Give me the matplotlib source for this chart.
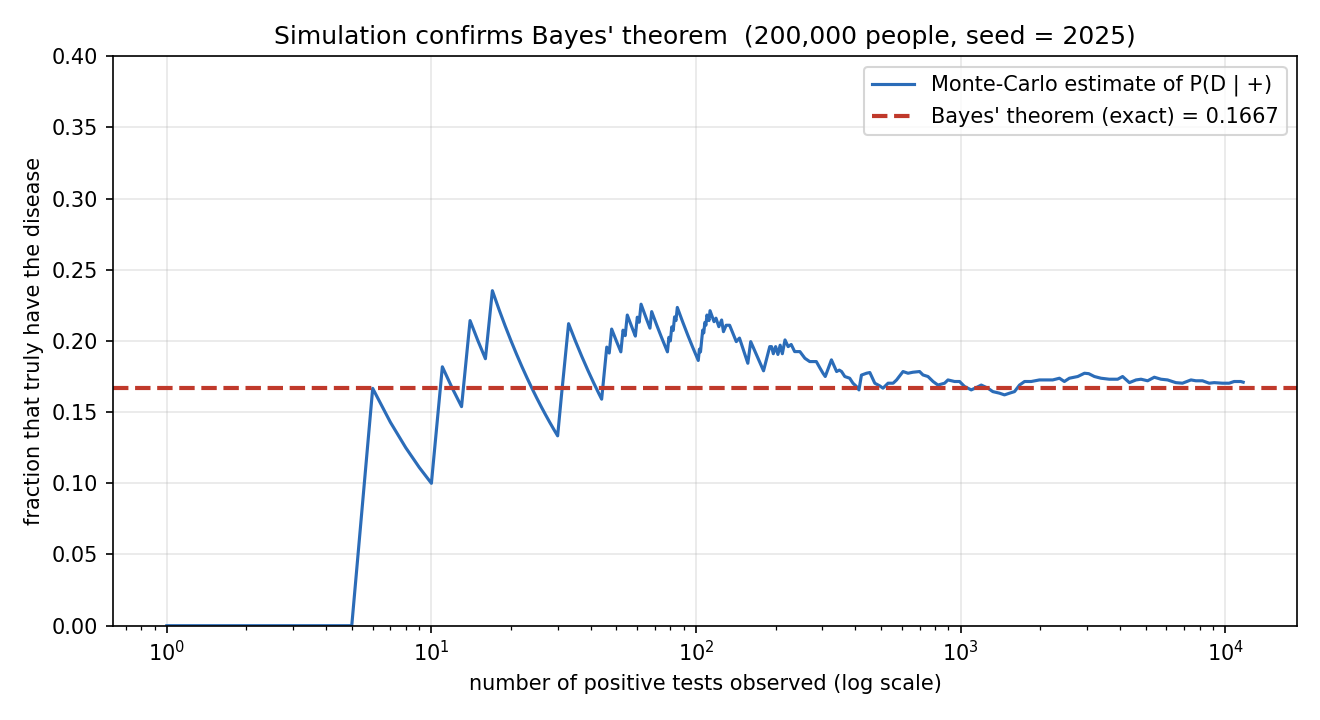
import numpy as np
import matplotlib.pyplot as plt

# exact answer from Bayes' theorem
bayes_exact = 1 / 6

# early part: index of each positive test that was a real case (n <= 113)
true_pos_at = [6, 11, 14, 17, 31, 32, 33, 45, 46, 48, 53, 55, 60, 62, 68,
               79, 81, 83, 85, 103, 105, 106, 108, 110, 113]
early_max_n = 113

# later part: running estimate read off at these counts
late_n = [117, 119, 122, 125, 127, 130, 134, 142, 146, 157, 161, 180, 190, 193,
          196, 200, 204, 208, 212, 217, 223, 229, 236, 247, 258, 269, 285, 294,
          302, 308, 325, 340, 348, 355, 365, 381, 392, 404, 413, 422, 441, 454,
          474, 495, 509, 532, 556, 573, 606, 633, 660, 700, 721, 753, 787, 821,
          870, 896, 949, 991, 1035, 1066, 1097, 1140, 1197, 1268, 1324, 1403,
          1465, 1531, 1599, 1670, 1745, 1849, 1986, 2106, 2230, 2364, 2467, 2577,
          2772, 2939, 3050, 3204, 3394, 3647, 3924, 4096, 4345, 4603, 4808, 5093,
          5397, 5720, 6058, 6508, 6896, 7424, 7752, 8210, 8702, 9086, 9767,
          10350, 10810, 11450, 11700]
late_frac = [0.2135, 0.216, 0.210, 0.2147, 0.2065, 0.211, 0.211, 0.1995, 0.202,
             0.1843, 0.1995, 0.179, 0.196, 0.196, 0.191, 0.196, 0.1905, 0.197,
             0.191, 0.2007, 0.196, 0.1975, 0.1925, 0.1925, 0.1878, 0.1855, 0.1855,
             0.181, 0.1773, 0.175, 0.1867, 0.1785, 0.1795, 0.1785, 0.175, 0.1738,
             0.1703, 0.168, 0.1656, 0.176, 0.1773, 0.1778, 0.1703, 0.1684, 0.1668,
             0.1703, 0.1703, 0.1726, 0.1785, 0.1773, 0.178, 0.1785, 0.1761, 0.175,
             0.1715, 0.169, 0.1703, 0.1726, 0.1715, 0.1715, 0.168, 0.1668, 0.1656,
             0.167, 0.169, 0.1668, 0.1644, 0.1633, 0.1621, 0.1633, 0.1644, 0.169,
             0.1715, 0.1715, 0.1726, 0.1726, 0.1726, 0.1738, 0.1715, 0.1738, 0.175,
             0.1773, 0.177, 0.175, 0.1738, 0.1731, 0.1731, 0.175, 0.1707, 0.1726,
             0.1731, 0.172, 0.1745, 0.1731, 0.1726, 0.1707, 0.1703, 0.1726, 0.172,
             0.172, 0.1703, 0.1707, 0.1703, 0.1703, 0.1715, 0.1715, 0.171]

# running fraction for the early positives
n_early = np.arange(1, early_max_n + 1)
hits = np.isin(n_early, true_pos_at).astype(float)
frac_early = np.cumsum(hits) / n_early

n_all = np.concatenate([n_early, late_n])
frac_all = np.concatenate([frac_early, late_frac])

plt.figure(figsize=(8.8, 4.8), dpi=150)
plt.plot(n_all, frac_all, color='#2b6cb8', lw=1.5,
         label='Monte-Carlo estimate of P(D | +)')
plt.axhline(bayes_exact, color='#c0392b', ls='--', lw=2,
            label="Bayes' theorem (exact) = %.4f" % bayes_exact)
plt.xscale('log')
plt.ylim(0, 0.4)
plt.grid(alpha=0.3)
plt.xlabel('number of positive tests observed (log scale)')
plt.ylabel('fraction that truly have the disease')
plt.title("Simulation confirms Bayes' theorem  (200,000 people, seed = 2025)", fontsize=12)
plt.legend(loc='upper right')
plt.subplots_adjust(left=0.0856, right=0.9826, top=0.922, bottom=0.131)
plt.savefig('out.png')
